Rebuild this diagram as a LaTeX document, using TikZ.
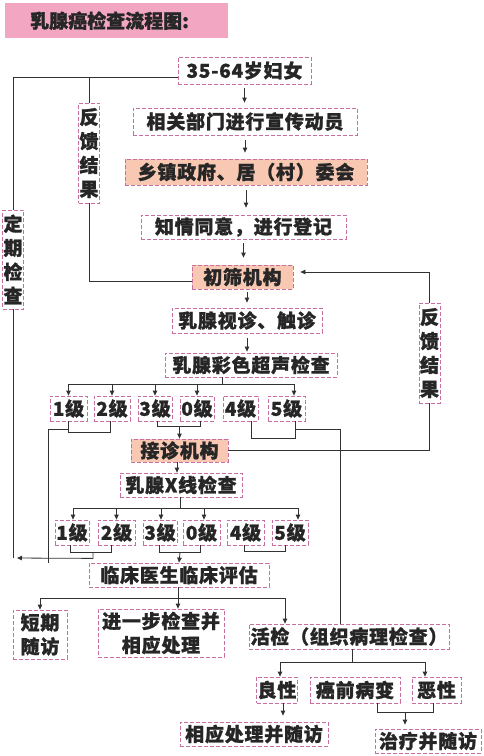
\documentclass[tikz,border=0pt]{standalone}
\usepackage{fontspec}
\setmainfont{Noto Sans CJK SC}[BoldFont={Noto Sans CJK SC Black},BoldFeatures={FakeBold=1.2}]
\usetikzlibrary{arrows.meta,calc,positioning}
\definecolor{BoxLine}{RGB}{200,110,160}
\definecolor{BoxFill}{RGB}{249,200,178}
\definecolor{TitleFill}{RGB}{243,166,194}
\definecolor{LineGray}{RGB}{50,50,50}

\begin{document}
\begin{tikzpicture}[x=1pt,y=-1pt,
    box/.style={draw=BoxLine,dash pattern=on 4pt off 2pt,line width=0.8pt,
                font=\fontsize{19}{24}\selectfont\bfseries\addfontfeature{LetterSpace=4},
                text=black!85,inner sep=1pt,align=center},
    fbox/.style={box,fill=BoxFill},
    gbox/.style={box,minimum height=25pt},
    vbox/.style={box,minimum width=20pt,minimum height=100pt},
    ln/.style={LineGray,line width=0.8pt},
    arr/.style={ln,-{Triangle[length=5pt,width=4.5pt]}}
  ]
  \useasboundingbox (0,0) rectangle (484,756);
  % title
  \node[fill=TitleFill,font=\fontsize{19}{24}\selectfont\bfseries,text=black!85,
        minimum height=35pt,text width=173pt,inner xsep=25pt,inner ysep=0pt,
        align=left,anchor=north west] (title) at (5,3) {乳腺癌检查流程图:};
  % main column
  \node[box,minimum width=133pt,minimum height=27pt] (women) at (244.5,70.5) {35-64岁妇女};
  \node[box,minimum width=224pt,minimum height=27pt] (mobil) at (245,121.5) {相关部门进行宣传动员};
  \node[fbox,minimum width=242pt,minimum height=26pt] (gov) at (246,172) {乡镇政府、居（村）委会};
  \node[box,minimum width=205pt,minimum height=24pt] (consent) at (243.5,227) {知情同意，进行登记};
  \node[fbox,minimum width=101pt,minimum height=24pt] (screen) at (242.5,277) {初筛机构};
  \node[box,minimum width=150pt,minimum height=25pt] (palp) at (247,320.5) {乳腺视诊、触诊};
  \node[box,minimum width=172pt,minimum height=24pt] (ultra) at (251,365) {乳腺彩色超声检查};
  % side labels
  \node[vbox] (fb1) at (89,153) {反\\馈\\结\\果};
  \node[vbox,minimum height=99pt] (regular) at (13,259.5) {定\\期\\检\\查};
  \node[vbox,minimum width=21pt] (fb2) at (429.5,353) {反\\馈\\结\\果};
  % ultrasound grades
  \node[gbox,minimum width=37pt] (g1a) at (68.5,408.5) {1级};
  \node[gbox,minimum width=36pt] (g2a) at (112,408.5) {2级};
  \node[gbox,minimum width=34pt] (g3a) at (155,408.5) {3级};
  \node[gbox,minimum width=34pt] (g0a) at (197,408.5) {0级};
  \node[gbox,minimum width=35pt] (g4a) at (240.5,408.5) {4级};
  \node[gbox,minimum width=37pt] (g5a) at (286.5,408.5) {5级};
  \node[fbox,minimum width=97pt,minimum height=23pt] (clinic) at (179.5,450.5) {接诊机构};
  \node[box,minimum width=122pt,minimum height=24pt] (xray) at (181,485) {乳腺X线检查};
  % x-ray grades
  \node[gbox,minimum width=34pt] (h1) at (72,532.5) {1级};
  \node[gbox,minimum width=37pt] (h2) at (116.5,532.5) {2级};
  \node[gbox,minimum width=34pt] (h3) at (160,532.5) {3级};
  \node[gbox,minimum width=37pt] (h0) at (201.5,532.5) {0级};
  \node[gbox,minimum width=37pt] (h4) at (245.5,532.5) {4级};
  \node[gbox,minimum width=36pt] (h5) at (290,532.5) {5级};
  \node[box,minimum width=180pt,minimum height=24pt] (eval) at (179,575) {临床医生临床评估};
  % outcomes
  \node[box,minimum width=54pt,minimum height=49pt] (short) at (40,634.5) {短期\\随访};
  \node[box,minimum width=126pt,minimum height=48pt] (further) at (161,633) {进一步检查并\\相应处理};
  \node[box,minimum width=200pt,minimum height=25pt] (biopsy) at (349,636.5) {活检（组织病理检查）};
  \node[box,minimum width=40pt,minimum height=26pt] (benign) at (277,690) {良性};
  \node[box,minimum width=90pt,minimum height=26pt] (precan) at (355,690) {癌前病变};
  \node[box,minimum width=49pt,minimum height=26pt] (malig) at (436.5,690) {恶性};
  \node[box,minimum width=148pt,minimum height=24pt] (treat1) at (254,734) {相应处理并随访};
  \node[box,minimum width=106pt,minimum height=24pt] (treat2) at (428,741) {治疗并随访};
  % main column arrows
  \draw[arr,shorten <=4pt,shorten >=5pt] (women.south) -- (women.south |- mobil.north);
  \draw[arr,shorten <=5pt,shorten >=6pt] (mobil.south) -- (mobil.south |- gov.north);
  \draw[arr,shorten <=5pt,shorten >=7pt] (gov.south) -- (gov.south |- consent.north);
  \draw[arr,shorten <=4pt,shorten >=7pt] (consent.south) -- (consent.south |- screen.north);
  \draw[arr,shorten <=3pt,shorten >=5pt] (palp.north |- screen.south) -- (palp.north);
  \draw[arr,shorten <=5pt,shorten >=1pt] (palp.south) -- (palp.south |- ultra.north);
  % feedback and routine loops
  \coordinate (lt) at (13,77);
  \coordinate (fbt) at (89,77);
  \draw[ln] (lt) -- (lt -| women.west);
  \draw[ln] (lt) -- (regular.north);
  \draw[ln] (regular.south) -- (13,558) coordinate (lb);
  \draw[ln] (fbt) -- (fb1.north);
  \draw[ln] (fb1.south) |- ([yshift=-4pt]screen.west);
  \draw[arr,shorten >=7pt] (fb2.north) |- ([yshift=5pt]screen.east);
  \draw[ln] (clinic.east) -| (fb2.south);
  % ultrasound split
  \draw[ln] ([xshift=-29pt]ultra.south) -- ++(0,7) coordinate (ub);
  \foreach \n in {g1a,g2a,g3a,g0a}
    \draw[arr] (ub) -| (\n.north);
  \draw[arr] (ub) -| ([xshift=7.5pt]g5a.north);
  % ultrasound grade brackets
  \draw[ln] (g1a.south) -- ++(0,11) -| ([xshift=-2pt]g2a.south);
  \draw[ln] ([yshift=-8pt]g1a.south) -- ++(-20,0) -- ++(0,134);
  \draw[ln] ([xshift=2pt]g3a.south) -- ++(0,5) coordinate (b30) -| ([xshift=3pt]g0a.south);
  \draw[arr] (b30 -| clinic.north) -- (clinic.north);
  \draw[ln] ([xshift=11pt]g4a.south) -- ++(0,17) -| ([xshift=8.5pt]g5a.south);
  \draw[ln] ([xshift=8.5pt,yshift=-8pt]g5a.south) -| ([xshift=-9pt]biopsy.north);
  \draw[arr] ([xshift=-2.5pt]clinic.south) -- ([xshift=-2.5pt]clinic.south |- xray.north);
  % x-ray split
  \draw[ln] ([xshift=-1pt]xray.south) -- ++(0,11) coordinate (xb);
  \draw[arr] (xb) -| ([xshift=1pt]h1.north);
  \draw[arr] (xb) -| (h2.north);
  \draw[arr] (xb) -| ([xshift=1pt]h3.north);
  \draw[arr] (xb) -| ([xshift=2.5pt]h0.north);
  \draw[arr] (xb) -| ([xshift=8pt]h5.north);
  % x-ray grade brackets
  \draw[ln] ([xshift=-2pt]h1.south) -- ++(0,7) coordinate (b12) -| ([xshift=-5.5pt]h2.south);
  \draw[arr,shorten >=4pt] ($(b12)+(23,0)$) -- ++(0,6) -- (lb);
  \draw[ln] ([xshift=-1pt]h3.south) -- ++(0,7) coordinate (c30) -| ([xshift=-1.5pt]h0.south);
  \draw[arr] ($(c30)+(21,0)$) -- (eval.north);
  \draw[ln] ([xshift=-1.5pt]h4.south) -- ++(0,6) -| ([xshift=-5pt]h5.south);
  % clinical evaluation split
  \draw[ln] ([xshift=-1pt]eval.south) -- ++(0,11) coordinate (eb);
  \draw[arr] (eb) -- (eb |- further.north);
  \draw[arr] (eb) -| (short.north);
  \draw[arr] (eb) -| ([xshift=-64pt]biopsy.north);
  % biopsy results
  \draw[ln] ([xshift=3pt]biopsy.south) -- ++(0,13) coordinate (bb);
  \draw[arr] (bb) -| ([xshift=3pt]benign.north);
  \draw[arr] (bb) -| ([xshift=-11.5pt]malig.north);
  \draw[arr,shorten >=6pt] ([xshift=6pt]benign.south) -- ([xshift=6pt]benign.south |- treat1.north);
  \draw[ln] ([xshift=22pt]precan.south) -- ++(0,9) coordinate (pm) -| ([xshift=-3.5pt]malig.south);
  \draw[arr,shorten >=4pt] ($(pm)+(28,0)$) -- (treat2.north -| {$(pm)+(28,0)$});
\end{tikzpicture}
\end{document}
